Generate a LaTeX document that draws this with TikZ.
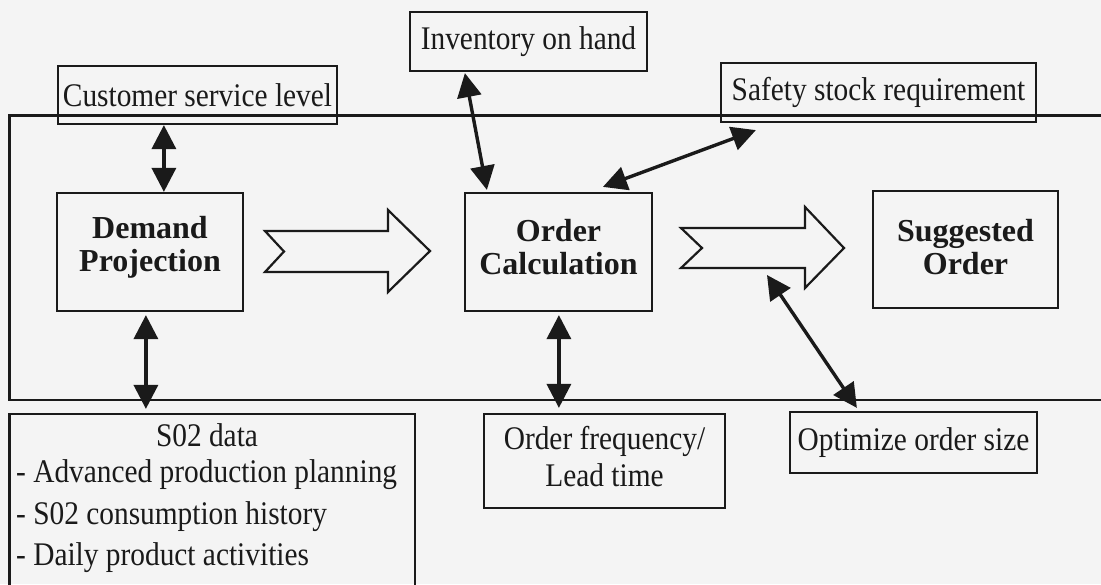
\documentclass[tikz,border=0pt]{standalone}
\usepackage{fontspec}
\setmainfont{Liberation Serif}[FakeStretch=0.89]
\newfontfamily\boldfam{Liberation Serif}
\usetikzlibrary{arrows.meta}
\definecolor{ink}{HTML}{1A1A1A}
\definecolor{paper}{HTML}{F4F4F4}
\tikzset{
  box/.style={draw=ink, line width=2.2pt, inner sep=0pt},
  lbl/.style={font=\fontsize{33}{37}\selectfont, text=ink, inner sep=0pt, align=center},
  blbl/.style={font=\boldfam\bfseries\fontsize{32}{33}\selectfont, text=ink, inner sep=0pt, align=center},
  dbl/.style={line width=3.4pt, draw=ink,
    {Triangle[length=24pt,width=24pt,fill=ink]}-{Triangle[length=24pt,width=24pt,fill=ink]}},
  hollow/.style={draw=ink, line width=2.2pt, line join=miter, fill=paper},
  framestyle/.style={draw=ink, line width=2.2pt},
}
\begin{document}
\begin{tikzpicture}[x=1pt,y=-1pt]
\useasboundingbox (0,0) rectangle (1101,584);
\fill[paper] (0,0) rectangle (1101,584);
\clip (0,0) rectangle (1101,584);

% big frame
\draw[framestyle] (1115,115.5) -- (9.5,115.5) -- (9.5,400) -- (1115,400);

% boxes
\node[box, lbl, minimum width=279pt, minimum height=58pt] (cust) at (197.5,95) {Customer service level};
\node[box, lbl, minimum width=237pt, minimum height=59pt] (inv) at (528.5,41.5) {Inventory on hand};
\node[box, lbl, minimum width=315pt, minimum height=59pt] (safe) at (878.5,92.5) {Safety stock requirement};

\node[box, minimum width=186pt, minimum height=118pt] (dem) at (150,252) {};
\node[blbl] at (150,247) {Demand\\Projection};
\node[box, minimum width=187pt, minimum height=118pt] (ordc) at (558.5,252) {};
\node[blbl] at (558.5,247) {Order\\Calculation};
\node[box, minimum width=185pt, minimum height=117pt] (sugg) at (965.5,249.5) {};
\node[blbl] at (965.5,247) {Suggested\\Order};

\node[box, minimum width=405.5pt, minimum height=206pt] (s02) at (212.25,517) {};
\node[lbl, anchor=base] at (207,446) {S02 data};
\node[lbl, anchor=base west] at (16,482) {- Advanced production planning};
\node[lbl, anchor=base west] at (16,524) {- S02 consumption history};
\node[lbl, anchor=base west] at (16,565) {- Daily product activities};

\node[box, minimum width=241pt, minimum height=94pt] (ordf) at (604.5,461) {};
\node[lbl] at (604.5,457) {Order frequency/\\Lead time};
\node[box, lbl, minimum width=247pt, minimum height=61pt] (opt) at (913.5,442.5) {Optimize order size};

% hollow arrows
\draw[hollow] (265,231) -- (388,231) -- (388,210) -- (430,251) -- (388,292) -- (388,272) -- (265,272) -- (284,251.5) -- cycle;
\draw[hollow] (681,228) -- (805,228) -- (805,207) -- (844,248) -- (805,288) -- (805,268) -- (681,268) -- (702,248) -- cycle;

% double arrows
\draw[dbl] ([xshift=107pt]cust.south west) -- ([xshift=108pt]dem.north west);
\draw[dbl] ([xshift=56pt,yshift=-1pt]inv.south west) -- ([xshift=23pt,yshift=2pt]ordc.north west);
\draw[dbl] ([xshift=36pt,yshift=-7pt]safe.south west) -- ([xshift=139pt,yshift=5pt]ordc.north west);
\draw[dbl] ([xshift=90pt,yshift=-3pt]dem.south west) -- ([xshift=137.5pt,yshift=4pt]s02.north west);
\draw[dbl] ([xshift=95pt,yshift=-3pt]ordc.south west) -- ([xshift=76pt,yshift=5pt]ordf.north west);
\coordinate (optend) at (767,275);
\draw[dbl] (optend) -- ([xshift=68pt,yshift=3pt]opt.north west);
\end{tikzpicture}
\end{document}
